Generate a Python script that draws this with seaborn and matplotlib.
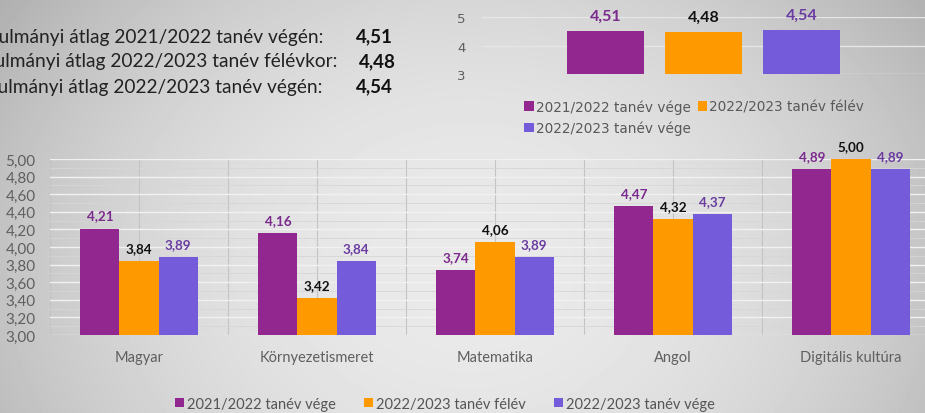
import numpy as np
import pandas as pd
import matplotlib
matplotlib.use("Agg")
import matplotlib.pyplot as plt
import seaborn as sns
from matplotlib.patches import Patch
from matplotlib.ticker import MultipleLocator, FuncFormatter

# ---------------- data ----------------
subjects = ["Magyar", "Környezetismeret", "Matematika", "Angol", "Digitális kultúra"]
series = ["2021/2022 tanév vége", "2022/2023 tanév félév", "2022/2023 tanév vége"]
v_2122_end = [4.21, 4.16, 3.74, 4.47, 4.89]
v_2223_half = [3.84, 3.42, 4.06, 4.32, 5.00]
v_2223_end = [3.89, 3.84, 3.89, 4.37, 4.89]
overall = [4.51, 4.48, 4.54]
summary_texts = ["Tanulmányi átlag 2021/2022 tanév végén:",
                 "Tanulmányi átlag 2022/2023 tanév félévkor:",
                 "Tanulmányi átlag 2022/2023 tanév végén:"]
summary_values = ["4,51", "4,48", "4,54"]

colors = ["#92278F", "#FF9900", "#745BDA"]
label_colors = ["#7B2A8D", "#111111", "#6A3CA2"]

sns.set_style("white")
plt.rcParams["font.family"] = ["Lato", "DejaVu Sans"]

W, H = 925, 414
fig = plt.figure(figsize=(W / 100, H / 100), dpi=100)

# background radial gradient
bg = fig.add_axes([0, 0, 1, 1], zorder=-10)
yy, xx = np.mgrid[0:H, 0:W]
r2 = ((xx - 470) / 500.0) ** 2 + ((yy - 270) / 400.0) ** 2
img = np.clip((234 - 44 * r2) / 255.0, 0, 1)
bg.imshow(img, cmap="gray", vmin=0, vmax=1, extent=[0, W, H, 0], aspect="auto")
bg.axis("off")

def fmt(v):
    return f"{v:.2f}".replace(".", ",")

# ---------------- main chart ----------------
df = pd.DataFrame({
    "subject": subjects * 3,
    "series": np.repeat(series, len(subjects)),
    "value": v_2122_end + v_2223_half + v_2223_end,
})
ax = fig.add_axes([50 / W, 78 / H, 890 / W, 176 / H])
ax.patch.set_alpha(0)
sns.barplot(data=df, x="subject", y="value", hue="series", hue_order=series,
            palette=colors, width=0.66, saturation=1, legend=False, ax=ax,
            linewidth=0, zorder=3)
ax.set_ylim(3, 5)
ax.set_xlim(-0.5, 4.5)
ax.set_xlabel("")
ax.set_ylabel("")
for s in ax.spines.values():
    s.set_visible(False)
ax.yaxis.set_major_locator(MultipleLocator(0.2))
ax.yaxis.set_minor_locator(MultipleLocator(0.1))
ax.yaxis.set_major_formatter(FuncFormatter(lambda v, p: fmt(v)))
ax.set_xticks([i - 0.5 for i in range(6)], minor=True)
ax.set_axisbelow(True)
ax.grid(axis="y", which="major", color="#f1f1f1", lw=1.0)
ax.grid(axis="y", which="minor", color="#d6d6d6", lw=0.6)
ax.grid(axis="x", which="both", color="#c3c3c3", lw=0.8)
ax.tick_params(axis="both", which="both", length=0)
ax.tick_params(axis="y", pad=32, labelsize=11, labelcolor="#5f5f5f")
ax.tick_params(axis="x", pad=11, labelsize=10.5, labelcolor="#5f5f5f")
for lab in ax.get_yticklabels():
    lab.set_horizontalalignment("left")
for i, cont in enumerate(ax.containers):
    vals = df[df.series == series[i]]["value"].tolist()
    ax.bar_label(cont, labels=[fmt(v) for v in vals], padding=5,
                 color=label_colors[i], fontweight="bold", fontsize=9.7)

handles = [Patch(facecolor=c, edgecolor="none") for c in colors]
fig.legend(handles, series, loc="center", bbox_to_anchor=(445 / W, 9 / H), ncol=3,
           frameon=False, labelcolor="#555555", handlelength=0.6,
           handleheight=0.6, handletextpad=0.25, columnspacing=1.9,
           prop={"family": ["Lato"], "size": 10.5})

# ---------------- top overall chart ----------------
df2 = pd.DataFrame({"group": ["összesen"] * 3, "series": series, "value": overall})
ax2 = fig.add_axes([482 / W, 339 / H, 443 / W, 57 / H])
ax2.patch.set_alpha(0)
sns.barplot(data=df2, x="group", y="value", hue="series", hue_order=series,
            palette=colors, width=0.6637, gap=0.214, saturation=1, legend=False,
            ax=ax2, linewidth=0, zorder=3)
ax2.set_ylim(3, 5)
ax2.set_yticks([3, 4, 5])
ax2.set_yticklabels(["3", "4", "5"], fontfamily="DejaVu Sans")
ax2.set_xticks([])
ax2.set_xlabel("")
ax2.set_ylabel("")
for s in ax2.spines.values():
    s.set_visible(False)
ax2.set_axisbelow(True)
ax2.grid(axis="y", color="#e6e6e6", lw=1.0)
ax2.tick_params(axis="y", length=0, pad=12, labelsize=9.5, labelcolor="#5f5f5f")
for i, cont in enumerate(ax2.containers):
    ax2.bar_label(cont, labels=[fmt(overall[i])], padding=6,
                  color=label_colors[i], fontweight="bold", fontsize=11.5)

order = [0, 2, 1]
fig.legend([handles[i] for i in order], [series[i] for i in order],
           loc="upper left", bbox_to_anchor=(512 / W, 1 - 88 / H), ncol=2,
           frameon=False, labelcolor="#595959", handlelength=0.7, handleheight=0.7,
           handletextpad=0.15, columnspacing=0.5, labelspacing=0.5,
           prop={"family": ["DejaVu Sans"], "size": 9.8})

# ---------------- left summary text ----------------
baselines = [42.5, 67.5, 92.5]
ends = [323, 337, 322]
val_x = [356, 359, 356]
for t, v, b, e, vx in zip(summary_texts, summary_values, baselines, ends, val_x):
    fig.text(e / W, 1 - b / H, t, ha="right", va="baseline", fontsize=13.8,
             color="#222222")
    fig.text(vx / W, 1 - b / H, v, ha="left", va="baseline", fontsize=13.5,
             fontweight="bold", color="#111111")

fig.savefig("out.png", dpi=100)
